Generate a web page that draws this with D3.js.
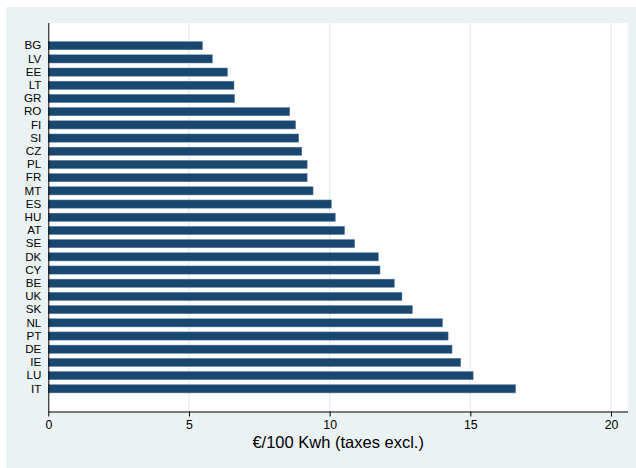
<!DOCTYPE html>
<html>
<head>
<meta charset="utf-8">
<script src="https://cdn.jsdelivr.net/npm/d3@7"></script>
<style>
  html, body { margin: 0; padding: 0; background: #ffffff; }
  svg { display: block; }
  text { font-family: "Liberation Sans", Arial, Helvetica, sans-serif; }
</style>
</head>
<body>
<svg id="chart" width="636" height="468"></svg>
<script>
const countries = ["BG","LV","EE","LT","GR","RO","FI","SI","CZ","PL","FR","MT","ES","HU","AT","SE","DK","CY","BE","UK","SK","NL","PT","DE","IE","LU","IT"];
const prices = [5.48,5.83,6.37,6.60,6.62,8.58,8.79,8.90,9.01,9.20,9.20,9.41,10.06,10.20,10.53,10.89,11.73,11.79,12.30,12.57,12.94,14.01,14.21,14.35,14.66,15.10,16.61];
const xTicks = [0,5,10,15,20];
const xTitle = "€/100 Kwh (taxes excl.)";

const svg = d3.select("#chart");
const plot = {left: 48.3, right: 628, top: 23, bottom: 411.5};

// outer graph region
svg.append("rect").attr("x", 6).attr("y", 7).attr("width", 630).attr("height", 461).attr("fill", "#eaf2f3");
// plot region
svg.append("rect").attr("x", plot.left).attr("y", plot.top)
  .attr("width", plot.right - plot.left).attr("height", plot.bottom - plot.top).attr("fill", "#ffffff");

const x = d3.scaleLinear().domain([0, 20]).range([plot.left, 611]);
const y = d3.scaleBand().domain(countries).range([plot.top, plot.bottom]).paddingInner(0.38).paddingOuter(1.41);

// gridlines
svg.append("g").selectAll("line").data(xTicks.filter(d => d > 0)).join("line")
  .attr("x1", d => x(d)).attr("x2", d => x(d))
  .attr("y1", plot.top).attr("y2", plot.bottom)
  .attr("stroke", "#e3ecef").attr("stroke-width", 1.2);

// bars
svg.append("g").selectAll("rect").data(countries).join("rect")
  .attr("x", x(0))
  .attr("y", c => y(c))
  .attr("width", (c, i) => x(prices[i]) - x(0))
  .attr("height", y.bandwidth())
  .attr("fill", "#1a476f")
  .attr("stroke", "#5d7fa0").attr("stroke-width", 0.5);

// x axis
const xAxis = d3.axisBottom(x).tickValues(xTicks).tickSize(5).tickPadding(4).tickFormat(d3.format("d"));
const gx = svg.append("g").attr("transform", `translate(0,${plot.bottom})`).call(xAxis);
gx.select(".domain").attr("d", `M${plot.left},0.5H${plot.right}`).attr("stroke", "#000");
gx.selectAll(".tick line").attr("stroke", "#000");
gx.selectAll(".tick text").attr("font-size", "12.3px").attr("fill", "#000")
  .attr("font-family", "'Liberation Sans', Arial, sans-serif");

// y axis
const yAxis = d3.axisLeft(y).tickSize(0).tickPadding(7);
const gy = svg.append("g").attr("transform", `translate(${plot.left},0)`).call(yAxis);
gy.select(".domain").attr("d", `M0.5,${plot.top}V${plot.bottom}`).attr("stroke", "#000");
gy.selectAll(".tick text").attr("font-size", "11.6px").attr("fill", "#000")
  .attr("font-family", "'Liberation Sans', Arial, sans-serif");

// x title
svg.append("text").attr("x", (plot.left + plot.right) / 2).attr("y", 448)
  .attr("text-anchor", "middle").attr("font-size", "16.5px").attr("fill", "#000")
  .text(xTitle);
</script>
</body>
</html>
